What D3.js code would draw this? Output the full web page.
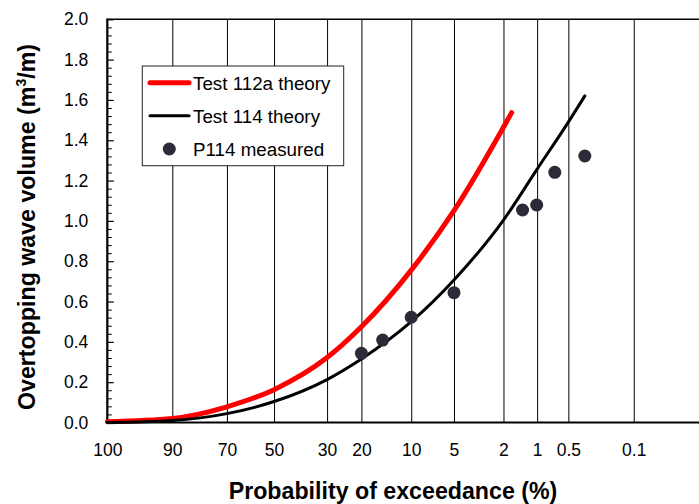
<!DOCTYPE html>
<html>
<head>
<meta charset="utf-8">
<script src="https://cdn.jsdelivr.net/npm/d3@7"></script>
<style>
  html, body { margin: 0; padding: 0; background: #fff; }
  svg { display: block; font-family: "Liberation Sans", Arial, sans-serif; }
</style>
</head>
<body>
<svg id="chart" width="699" height="504"></svg>
<script>
// ---- data ----
const probTicks = [100, 90, 70, 50, 30, 20, 10, 5, 2, 1, 0.5, 0.1];
const yTicks = [0, 0.2, 0.4, 0.6, 0.8, 1.0, 1.2, 1.4, 1.6, 1.8, 2.0];

const theory112aP = [100, 90, 70, 50, 30, 20, 10, 5, 1.7];
const theory112aV = [0.004, 0.020, 0.078, 0.163, 0.322, 0.475, 0.756, 1.051, 1.537];

const theory114P = [100, 90, 70, 50, 30, 20, 10, 5, 2, 1, 0.5, 0.34];
const theory114V = [0.0, 0.010, 0.044, 0.104, 0.213, 0.315, 0.500, 0.707, 1.004, 1.257, 1.49, 1.62];

const measured114P = [20, 15.1, 10, 5, 1.36, 1.01, 0.68, 0.34];
const measured114V = [0.343, 0.409, 0.522, 0.644, 1.054, 1.079, 1.241, 1.322];

const seriesNames = ["Test 112a theory", "Test 114 theory", "P114 measured"];

// ---- layout ----
const svg = d3.select("#chart");
const L = 107.3, T = 19.3, B = 422.5;
const tf = p => Math.sqrt(-Math.log(p / 100)); // exceedance probability transform
const x = d3.scaleLinear().domain([0, 3]).range([L, L + 3 * 200.3]);
const y = d3.scaleLinear().domain([0, 2]).range([B, T]);
const px = p => x(tf(p));

// vertical grid lines
const gridVals = probTicks.filter(p => p !== 100).map(tf);
svg.append("g")
  .attr("transform", `translate(0,${B})`)
  .call(d3.axisBottom(x).tickValues(gridVals).tickSize(-(B - T)).tickFormat(""))
  .call(g => g.select(".domain").remove())
  .call(g => g.selectAll("line").attr("stroke", "#000").attr("stroke-width", 1));

// top border
svg.append("line").attr("x1", L).attr("x2", 699).attr("y1", T).attr("y2", T)
  .attr("stroke", "#000").attr("stroke-width", 1.6);

// x tick labels
svg.append("g")
  .attr("transform", `translate(0,${B})`)
  .call(d3.axisBottom(x).tickValues(probTicks.map(tf)).tickSize(0).tickPadding(21)
    .tickFormat((d, i) => String(probTicks[i])))
  .call(g => g.select(".domain").remove())
  .call(g => g.selectAll("text").attr("font-size", 17.5).attr("fill", "#000")
    .attr("font-family", "Liberation Sans, Arial, sans-serif"));

// y minor ticks
const minor = d3.range(0, 2.0001, 0.04).filter(v => Math.abs(v / 0.2 - Math.round(v / 0.2)) > 1e-6);
svg.append("g")
  .attr("transform", `translate(${L},0)`)
  .call(d3.axisLeft(y).tickValues(minor).tickSize(-4.5).tickFormat(""))
  .call(g => g.select(".domain").remove())
  .call(g => g.selectAll("line").attr("stroke", "#000").attr("stroke-width", 1));

// y major ticks and labels
svg.append("g")
  .attr("transform", `translate(${L},0)`)
  .call(d3.axisLeft(y).tickValues(yTicks).tickSize(-6.5).tickPadding(19).tickFormat(d3.format(".1f")))
  .call(g => g.select(".domain").remove())
  .call(g => g.selectAll("line").attr("stroke", "#000").attr("stroke-width", 1.2))
  .call(g => g.selectAll("text").attr("font-size", 17.5).attr("fill", "#000")
    .attr("font-family", "Liberation Sans, Arial, sans-serif"));

// axis lines
svg.append("line").attr("x1", L).attr("x2", L).attr("y1", T - 0.8).attr("y2", B + 1)
  .attr("stroke", "#000").attr("stroke-width", 2.2);
svg.append("line").attr("x1", L - 1).attr("x2", 699).attr("y1", B).attr("y2", B)
  .attr("stroke", "#000").attr("stroke-width", 2.2);

// series
const line = d3.line().x(d => px(d[0])).y(d => y(d[1])).curve(d3.curveMonotoneX);
const red = d3.zip(theory112aP, theory112aV);
const blk = d3.zip(theory114P, theory114V);
const pts = d3.zip(measured114P, measured114V);

svg.append("path").datum(red).attr("d", line)
  .attr("fill", "none").attr("stroke", "#ff0000").attr("stroke-width", 5)
  .attr("stroke-linejoin", "round").attr("stroke-linecap", "round");
svg.append("path").datum(blk).attr("d", line)
  .attr("fill", "none").attr("stroke", "#000").attr("stroke-width", 3)
  .attr("stroke-linejoin", "round").attr("stroke-linecap", "round");
svg.append("g").selectAll("circle").data(pts).join("circle")
  .attr("cx", d => px(d[0])).attr("cy", d => y(d[1])).attr("r", 6.5)
  .attr("fill", "#2a2a38");

// legend
const lg = svg.append("g");
lg.append("rect").attr("x", 142.3).attr("y", 66).attr("width", 201.4).attr("height", 99.7)
  .attr("fill", "#fff").attr("stroke", "#222").attr("stroke-width", 1);
const ly = [82.7, 115.7, 149];
lg.append("line").attr("x1", 150).attr("x2", 189).attr("y1", ly[0]).attr("y2", ly[0])
  .attr("stroke", "#ff0000").attr("stroke-width", 5).attr("stroke-linecap", "round");
lg.append("line").attr("x1", 150).attr("x2", 189).attr("y1", ly[1]).attr("y2", ly[1])
  .attr("stroke", "#000").attr("stroke-width", 3).attr("stroke-linecap", "round");
lg.append("circle").attr("cx", 169.3).attr("cy", ly[2]).attr("r", 6.5).attr("fill", "#2a2a38");
seriesNames.forEach((n, i) => {
  lg.append("text").attr("x", 193).attr("y", ly[i] + 6.8).attr("font-size", 18.8)
    .attr("fill", "#000").text(n);
});

// axis titles
svg.append("text").attr("x", 393).attr("y", 499).attr("text-anchor", "middle")
  .attr("font-size", 23.2).attr("font-weight", "bold").attr("fill", "#000")
  .text("Probability of exceedance (%)");

const yt = svg.append("text").attr("transform", "translate(35,227) rotate(-90)")
  .attr("text-anchor", "middle").attr("font-size", 23.2).attr("font-weight", "bold").attr("fill", "#000");
yt.append("tspan").text("Overtopping wave volume (m");
yt.append("tspan").attr("font-size", 14).attr("dy", -9).text("3");
yt.append("tspan").attr("dy", 9).text("/m)");
</script>
</body>
</html>
